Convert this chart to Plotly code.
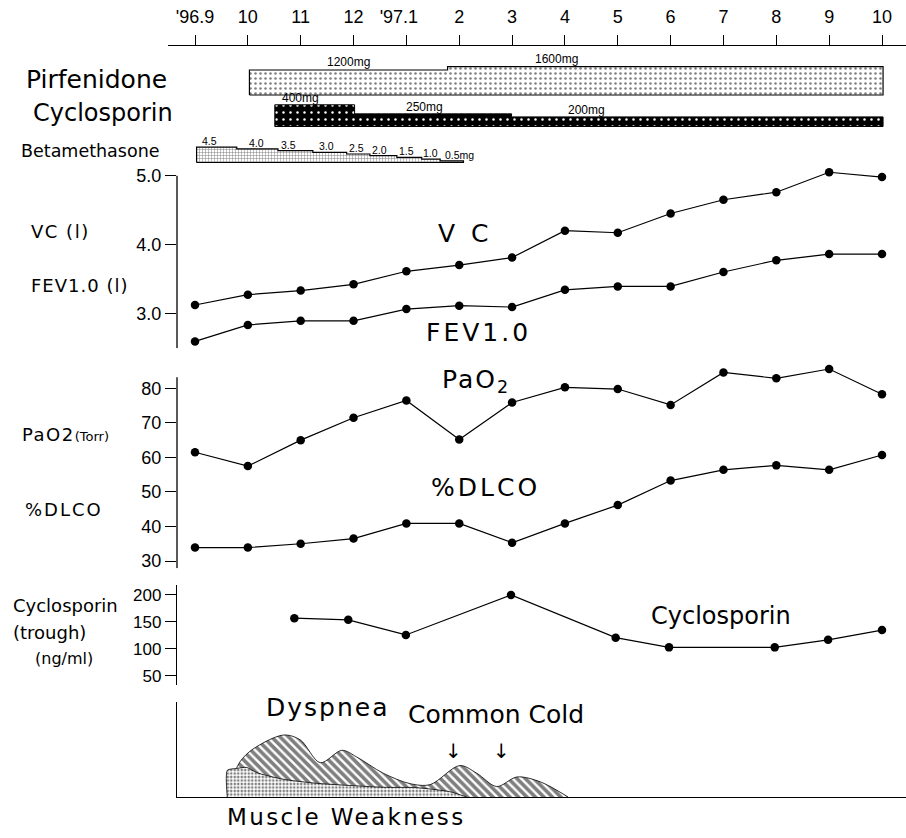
import plotly.graph_objects as go

W, H = 906, 838

# ---------------- data ----------------
months = list(range(14))  # '96.9 ... '97.10
month_labels = ["'96.9", "10", "11", "12", "'97.1\u00a0\u00a0\u00a0", "2", "3", "4", "5", "6", "7", "8", "9", "10"]

vc = [3.12, 3.27, 3.33, 3.42, 3.61, 3.70, 3.81, 4.20, 4.17, 4.45, 4.65, 4.76, 5.05, 4.98]
fev = [2.59, 2.83, 2.89, 2.89, 3.06, 3.11, 3.09, 3.34, 3.39, 3.39, 3.60, 3.77, 3.86, 3.86]
pao2 = [61.5, 57.5, 65.0, 71.5, 76.5, 65.2, 75.9, 80.3, 79.8, 75.2, 84.6, 82.9, 85.6, 78.3]
dlco = [33.9, 33.9, 35.0, 36.5, 40.9, 40.9, 35.3, 40.9, 46.2, 53.3, 56.4, 57.7, 56.4, 60.7]

cya_months = [1.88, 2.90, 3.99, 5.98, 7.96, 8.97, 10.97, 11.98, 13.0]
cya_trough = [157, 154, 126, 200, 121, 103, 103, 117, 135]

pirf_start = [1.03, 4.78]
pirf_end = 13.02
pirf_dose = [1200, 1600]

cyclo_start = [1.51, 3.02, 5.99]
cyclo_end = 13.02
cyclo_dose = [400, 250, 200]

beta_start = [0.03, 0.79, 1.57, 2.23, 2.87, 3.31, 3.82, 4.29, 4.64]
beta_end = 5.08
beta_dose = [4.5, 4.0, 3.5, 3.0, 2.5, 2.0, 1.5, 1.0, 0.5]

dyspnea_month = [0.70, 0.80, 1.04, 1.67, 1.99, 2.37, 2.78, 3.06, 3.56, 4.07, 4.45, 5.01, 5.33, 5.71, 6.09, 6.53, 7.06]
dyspnea_level = [0.00, 0.32, 0.48, 0.65, 0.60, 0.36, 0.49, 0.42, 0.25, 0.14, 0.13, 0.33, 0.25, 0.11, 0.21, 0.16, 0.00]

muscle_month = [0.61, 0.61, 0.79, 0.98, 1.17, 1.67, 2.30, 3.56, 4.19, 4.82, 5.14]
muscle_level = [0.00, 0.28, 0.30, 0.31, 0.255, 0.186, 0.144, 0.102, 0.098, 0.056, 0.00]

# ---------------- layout helpers ----------------
SANS = "DejaVu Sans"
TICKF = "Liberation Sans"
M0_PX, PX_PER_MONTH = 195.0, (882.0 - 195.0) / 13.0


def mrange(left_px, right_px=906.0):
    return [(left_px - M0_PX) / PX_PER_MONTH, (right_px - M0_PX) / PX_PER_MONTH]


def dom(top_px, bottom_px):
    return [1 - bottom_px / H, 1 - top_px / H]


def step_polygon(starts, end, doses, base, hfun):
    xs, ys = [starts[0]], [base]
    bounds = starts[1:] + [end]
    for s, e, d in zip(starts, bounds, doses):
        t = base + hfun(d)
        xs += [s, e]
        ys += [t, t]
    xs += [end, starts[0]]
    ys += [base, base]
    return xs, ys


def sp(text, px):
    return f"<span style='letter-spacing:{px}px'>{text}</span>"


fig = go.Figure()

# drug lanes (y axis in pixel-like units: 1 unit = 1 px)
PIRF_BASE, CYC_BASE, BETA_BASE = 75.0, 43.5, 7.5
pirf_h = lambda d: 25 + (d - 1200) * 0.00825
cyc_h = lambda d: -2.5 + 0.0605 * d
beta_h = lambda d: 3.4 * d

px_, py_ = step_polygon(pirf_start, pirf_end, pirf_dose, PIRF_BASE, pirf_h)
fig.add_trace(go.Scatter(x=px_, y=py_, xaxis="x2", yaxis="y", mode="lines", fill="toself",
                         line=dict(color="black", width=1.2), fillcolor="white",
                         fillpattern=dict(shape=".", fgcolor="black", bgcolor="white", size=5, solidity=0.2),
                         hoverinfo="skip", showlegend=False))
cx_, cy_ = step_polygon(cyclo_start, cyclo_end, cyclo_dose, CYC_BASE, cyc_h)
fig.add_trace(go.Scatter(x=cx_, y=cy_, xaxis="x2", yaxis="y", mode="lines", fill="toself",
                         line=dict(color="black", width=1), fillcolor="black",
                         fillpattern=dict(shape=".", fgcolor="white", bgcolor="black", size=7, solidity=0.1,
                                          fillmode="replace"),
                         hoverinfo="skip", showlegend=False))
bx_, by_ = step_polygon(beta_start, beta_end, beta_dose, BETA_BASE, beta_h)
fig.add_trace(go.Scatter(x=bx_, y=by_, xaxis="x2", yaxis="y", mode="lines", fill="toself",
                         line=dict(color="black", width=1.2), fillcolor="white",
                         fillpattern=dict(shape="+", fgcolor="black", bgcolor="white", size=3, solidity=0.3),
                         hoverinfo="skip", showlegend=False))

line_style = dict(color="black", width=1.2)
mk = dict(color="black", size=8.5)
for yy, ax in [(vc, "y2"), (fev, "y2"), (pao2, "y3"), (dlco, "y3")]:
    fig.add_trace(go.Scatter(x=months, y=yy, xaxis="x", yaxis=ax, mode="lines+markers",
                             line=line_style, marker=mk, cliponaxis=False, showlegend=False))
fig.add_trace(go.Scatter(x=cya_months, y=cya_trough, xaxis="x", yaxis="y4", mode="lines+markers",
                         line=line_style, marker=mk, cliponaxis=False, showlegend=False))

fig.add_trace(go.Scatter(x=dyspnea_month, y=dyspnea_level, xaxis="x", yaxis="y5", mode="lines",
                         line=dict(color="black", width=0.8, shape="spline", smoothing=0.9), fill="tozeroy",
                         fillcolor="white",
                         fillpattern=dict(shape="\\", fgcolor="black", bgcolor="white", size=6, solidity=0.6),
                         showlegend=False))
fig.add_trace(go.Scatter(x=muscle_month, y=muscle_level, xaxis="x", yaxis="y5", mode="lines",
                         line=dict(color="black", width=0.8, shape="spline", smoothing=0.6), fill="tozeroy",
                         fillcolor="white",
                         fillpattern=dict(shape=".", fgcolor="black", bgcolor="white", size=3.5, solidity=0.45),
                         showlegend=False))

tick_common = dict(showline=False, ticks="outside", ticklen=11, automargin=False,
                   tickcolor="black", tickwidth=1, showgrid=False, zeroline=False,
                   tickfont=dict(family=TICKF, size=18, color="black"))

# panel pixel geometry
VC_TOP, VC_BOT, VC_SCALE = 175.7, 348.3, 68.8        # px per litre
PA_TOP, PA_BOT, PA_SCALE = 377.3, 568.3, 3.454       # px per unit
VC_RANGE = [2.49, 5.0]
PA_RANGE = [27.9, 83.2]
VC_EXTRA, PA_EXTRA = 0.15, 4.0                       # head-room above the axis line for markers

fig.update_layout(
    width=W, height=H, margin=dict(l=0, r=0, t=0, b=0, autoexpand=False),
    paper_bgcolor="white", plot_bgcolor="rgba(0,0,0,0)",
    font=dict(family=SANS, color="black"),
    xaxis=dict(domain=[177 / W, 1], range=mrange(177), anchor="y5", showline=True, linecolor="black",
               linewidth=1.3, showticklabels=False, ticks="", showgrid=False, zeroline=False, automargin=False),
    xaxis2=dict(domain=[168 / W, 1], range=mrange(168), anchor="y", side="top", tickvals=months,
                ticktext=month_labels, ticks="outside", ticklen=10, tickcolor="black", tickwidth=1,
                showline=True, linecolor="black", linewidth=1.3, showgrid=False, zeroline=False,
                automargin=False, ticklabelstandoff=5, tickfont=dict(family=TICKF, size=18, color="black")),
    yaxis=dict(domain=dom(46, 170), range=[0, 124], anchor="x2", visible=False, automargin=False),
    yaxis2=dict(domain=dom(VC_TOP - VC_EXTRA * VC_SCALE, VC_BOT), range=[VC_RANGE[0], VC_RANGE[1] + VC_EXTRA],
                anchor="x", tickvals=[3, 4, 5], ticktext=["3.0", "4.0", "5.0"], **tick_common),
    yaxis3=dict(domain=dom(PA_TOP - PA_EXTRA * PA_SCALE, PA_BOT), range=[PA_RANGE[0], PA_RANGE[1] + PA_EXTRA],
                anchor="x", tickvals=[30, 40, 50, 60, 70, 80], **tick_common),
    yaxis4=dict(domain=dom(585, 685), range=[33.3, 218.5], anchor="x", tickvals=[50, 100, 150, 200],
                **{**tick_common, "showline": True, "linecolor": "black", "linewidth": 1.3,
                   "tickfont": dict(family=TICKF, size=17, color="black")}),
    yaxis5=dict(domain=dom(701.7, 797), range=[0, 1], anchor="x", showline=True, linecolor="black",
                linewidth=1.3, ticks="", showticklabels=False, showgrid=False, zeroline=False, automargin=False),
)

# axis lines of VC and PaO2 panels (shorter than the plotting range)
fig.add_shape(type="line", xref="paper", yref="y2", x0=177 / W, x1=177 / W, y0=VC_RANGE[0], y1=VC_RANGE[1],
              line=dict(color="black", width=1.3))
fig.add_shape(type="line", xref="paper", yref="y3", x0=177 / W, x1=177 / W, y0=PA_RANGE[0], y1=PA_RANGE[1],
              line=dict(color="black", width=1.3))

anns = []


def add_ann(text, x, y, size, xref="paper", yref="paper", xanchor="center", family=SANS):
    anns.append(dict(text=text, x=x, y=y, xref=xref, yref=yref, xanchor=xanchor, yanchor="middle",
                     showarrow=False, font=dict(family=family, size=size, color="black")))


# left labels (paper coords from pixel placements)
for txt, xpx, ypx, size, anc in [
    ("Pirfenidone", 24, 80, 25, "left"), ("Cyclosporin", 31, 113, 24, "left"),
    ("Betamethasone", 19, 151, 17.5, "left"),
    (sp("VC (l)", 1.5), 29, 231, 18, "left"), (sp("FEV1.0 (l)", 1), 29, 285, 18, "left"),
    (sp("PaO2", 1.5) + "<span style='font-size:13px'>(Torr)</span>", 20, 435, 18, "left"),
    (sp("%DLCO", 2), 23, 509, 18, "left"),
    ("Cyclosporin", 11, 605, 18, "left"), ("(trough)", 11, 632, 18, "left"), ("(ng/ml)", 33, 658, 16, "left"),
    (sp("Muscle Weakness", 2.4), 346.7, 817, 23, "center"),
]:
    add_ann(txt, xpx / W, 1 - ypx / H, size, xanchor=anc)

# dose labels
pirf_label_x = [2.91, 6.84]
cyclo_label_x = [2.0, 4.35, 7.4]
beta_label_x = [0.28, 1.17, 1.77, 2.49, 3.05, 3.50, 4.00, 4.45, 5.01]
for lx, d in zip(pirf_label_x, pirf_dose):
    add_ann(f"{d}mg", lx, PIRF_BASE + pirf_h(d) + 8, 12, xref="x2", yref="y", family=TICKF)
for lx, d in zip(cyclo_label_x, cyclo_dose):
    add_ann(f"{d}mg", lx, CYC_BASE + cyc_h(d) + 6.5, 12, xref="x2", yref="y", family=TICKF)
for i, (lx, d) in enumerate(zip(beta_label_x, beta_dose)):
    t = f"{d:.1f}" + ("mg" if i == len(beta_dose) - 1 else "")
    add_ann(t, lx, BETA_BASE + beta_h(d) + 6, 10.5, xref="x2", yref="y", family=TICKF)

# in-panel labels
add_ann(sp("V C", 4), 5.11, 4.16, 25, xref="x", yref="y2")
add_ann(sp("FEV1.0", 3), 5.36, 2.72, 25, xref="x", yref="y2")
add_ann(sp("PaO", 2) + "<sub>2</sub>", 5.3, 82.0, 25, xref="x", yref="y3")
add_ann(sp("%DLCO", 3), 5.5, 51.3, 25, xref="x", yref="y3")
add_ann("Cyclosporin", 9.95, 162, 24, xref="x", yref="y4")
add_ann(sp("Dyspnea", 2), 2.52, 0.94, 25, xref="x", yref="y5")
add_ann("Common Cold", 5.69, 0.87, 25, xref="x", yref="y5")
add_ann("↓", 4.89, 0.483, 20, xref="x", yref="y5")
add_ann("↓", 5.80, 0.483, 20, xref="x", yref="y5")

fig.update_layout(annotations=anns)
fig.write_html("out.html", config={"displayModeBar": False},
               post_script="document.body.style.margin='0px';")
